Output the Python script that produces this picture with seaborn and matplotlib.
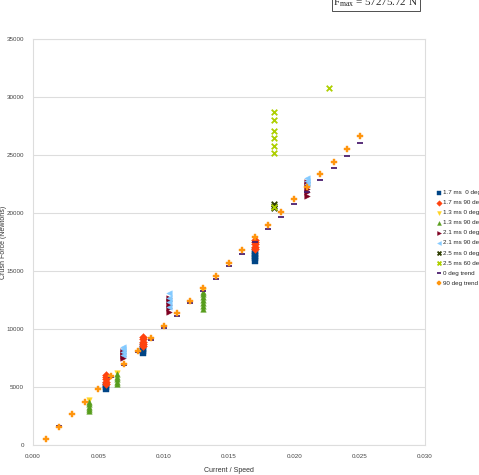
import matplotlib
matplotlib.use("Agg")
import matplotlib.pyplot as plt
import seaborn as sns

# series data (x = current / speed, y = crush force in N)
ms17_0_x = [0.0056, 0.0056, 0.0056, 0.0084, 0.0084, 0.0084, 0.0084, 0.017, 0.017, 0.017, 0.017, 0.017]
ms17_0_y = [4850, 5000, 5150, 7900, 8100, 8300, 8500, 15900, 16100, 16300, 16500, 16700]

ms17_90_x = [0.0056, 0.0056, 0.0056, 0.0056, 0.0056, 0.0084, 0.0084, 0.0084, 0.0084, 0.0084,
             0.017, 0.017, 0.017, 0.017, 0.017]
ms17_90_y = [5250, 5450, 5650, 5850, 6000, 8500, 8700, 8900, 9100, 9300,
             16900, 17100, 17300, 17500, 17700]

ms13_0_x = [0.0043, 0.00645, 0.013]
ms13_0_y = [3900, 6250, 13300]

ms13_90_x = [0.0043, 0.0043, 0.0043, 0.0043, 0.0043, 0.00645, 0.00645, 0.00645, 0.00645, 0.00645,
             0.013, 0.013, 0.013, 0.013, 0.013, 0.013, 0.013]
ms13_90_y = [2900, 3100, 3300, 3500, 3700, 5250, 5450, 5650, 5850, 6150,
             11750, 12000, 12250, 12500, 12750, 13000, 13200]

ms21_0_x = [0.0069, 0.0069, 0.0069, 0.0069, 0.0104, 0.0104, 0.0104, 0.0104, 0.0104,
            0.021, 0.021, 0.021, 0.021, 0.021]
ms21_0_y = [7500, 7700, 7900, 8100, 11500, 11800, 12100, 12400, 12700,
            21500, 21800, 22100, 22400, 22700]

ms21_90_x = [0.0069, 0.0069, 0.0069, 0.0069, 0.0104, 0.0104, 0.0104, 0.0104,
             0.021, 0.021, 0.021]
ms21_90_y = [7800, 8000, 8250, 8450, 11900, 12300, 12700, 13100,
             22500, 22750, 23000]

ms25_0_x = [0.01845, 0.01845, 0.01845]
ms25_0_y = [20450, 20600, 20750]

ms25_60_x = [0.01845, 0.01845, 0.01845, 0.01845, 0.01845, 0.01845, 0.01845, 0.02265]
ms25_60_y = [20550, 25190, 25790, 26450, 27060, 28040, 28730, 30800]

trend_x = [0.001, 0.002, 0.003, 0.004, 0.005, 0.006, 0.007, 0.008, 0.009, 0.010, 0.011, 0.012, 0.013,
           0.014, 0.015, 0.016, 0.017, 0.018, 0.019, 0.020, 0.021, 0.022, 0.023, 0.024, 0.025]
trend0_y = [560, 1620, 2680, 3740, 4800, 5860, 6920, 7980, 9040, 10100, 11150, 12210, 13280,
            14340, 15400, 16460, 17520, 18600, 19680, 20740, 21800, 22850, 23920, 24950, 26000]
trend90_y = [500, 1580, 2670, 3750, 4830, 5920, 7000, 8100, 9200, 10290, 11380, 12440, 13540,
             14600, 15700, 16800, 17950, 18980, 20100, 21180, 22270, 23330, 24420, 25500, 26600]

series = [
    ("1.7 ms  0 deg", ms17_0_x, ms17_0_y, "#004586", "s"),
    ("1.7 ms 90 deg", ms17_90_x, ms17_90_y, "#ff420e", "D"),
    ("1.3 ms 0 deg", ms13_0_x, ms13_0_y, "#ffd320", "v"),
    ("1.3 ms 90 deg", ms13_90_x, ms13_90_y, "#579d1c", "^"),
    ("2.1 ms 0 deg", ms21_0_x, ms21_0_y, "#7e0021", ">"),
    ("2.1 ms 90 deg", ms21_90_x, ms21_90_y, "#83caff", "<"),
    ("2.5 ms 0 deg", ms25_0_x, ms25_0_y, "#314004", "x"),
    ("2.5 ms 60 deg", ms25_60_x, ms25_60_y, "#aecf00", "x"),
    ("0 deg trend", trend_x, trend0_y, "#4b1f6f", "_"),
    ("90 deg trend", trend_x, trend90_y, "#ff950e", "P"),
]

sns.set_style("white")
plt.rcParams['font.family'] = ['Liberation Sans', 'DejaVu Sans']
plt.rcParams['mathtext.fontset'] = 'custom'
plt.rcParams['mathtext.rm'] = 'Liberation Serif'

fig = plt.figure(figsize=(4.79, 4.75), dpi=100)
ax = fig.add_axes([33 / 479, 1 - 445 / 475, 392 / 479, 406 / 475])

for label, xs, ys, color, mk in series:
    if mk in ("x", "_"):
        sns.scatterplot(x=xs, y=ys, ax=ax, marker=mk, color=color, s=16, linewidth=1.3, label=label)
    else:
        sns.scatterplot(x=xs, y=ys, ax=ax, marker=mk, color=color, s=16, edgecolor=color,
                        linewidth=0.3, label=label)

ax.set_xlim(0, 0.03)
ax.set_ylim(0, 35000)
ax.set_xticks([0.0, 0.005, 0.01, 0.015, 0.02, 0.025, 0.03])
ax.set_xticklabels(["0.000", "0.005", "0.010", "0.015", "0.020", "0.025", "0.030"])
ax.set_yticks(range(0, 35001, 5000))
ax.tick_params(labelsize=4.5, labelcolor="#444444", length=3, color="#dddddd", width=0.8)
ax.yaxis.grid(True, color="#dddddd", lw=0.8)
ax.set_axisbelow(True)
for sp in ax.spines.values():
    sp.set_color("#dddddd")
    sp.set_linewidth(0.8)

ax.set_xlabel("Current / Speed", fontsize=5, color="#333333", labelpad=6)
ax.set_ylabel("Crush Force (Newtons)", fontsize=5, color="#333333")
ax.yaxis.set_label_coords(-0.066, 0.5)

handles, labels = ax.get_legend_handles_labels()
ax.legend_.remove()
fig.legend(handles, labels, loc="upper left", bbox_to_anchor=(0.905, 0.607), frameon=False,
           fontsize=4.5, labelspacing=0.75, handletextpad=0.2, markerscale=0.7,
           borderpad=0, handlelength=0.8)

fig.text(376 / 479, 1 - 3 / 475, r"F$_{\mathrm{max}}$ = 57275.72 N", family="Liberation Serif",
         fontsize=8, ha="center", va="center",
         bbox=dict(boxstyle="square,pad=0.15", fc="white", ec="#333333", lw=0.6))

fig.savefig("out.png", dpi=100)
